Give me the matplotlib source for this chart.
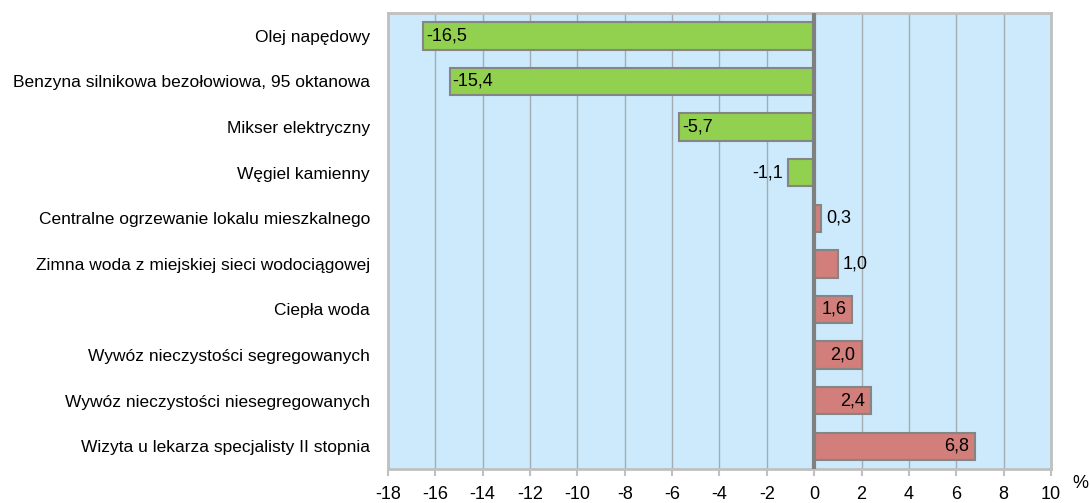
import matplotlib
matplotlib.use("Agg")
import matplotlib.pyplot as plt

categories = [
    "Olej napędowy",
    "Benzyna silnikowa bezołowiowa, 95 oktanowa",
    "Mikser elektryczny",
    "Węgiel kamienny",
    "Centralne ogrzewanie lokalu mieszkalnego",
    "Zimna woda z miejskiej sieci wodociągowej",
    "Ciepła woda",
    "Wywóz nieczystości segregowanych",
    "Wywóz nieczystości niesegregowanych",
    "Wizyta u lekarza specjalisty II stopnia",
]
values = [-16.5, -15.4, -5.7, -1.1, 0.3, 1.0, 1.6, 2.0, 2.4, 6.8]
inside = [True, True, True, False, False, False, True, True, True, True]
xticks = list(range(-18, 11, 2))

plt.rcParams['font.family'] = ['Liberation Sans', 'DejaVu Sans']

fig = plt.figure(figsize=(10.91, 5.03), dpi=100)
ax = fig.add_axes([0.3556, 0.0676, 0.6077, 0.9064])
ax.set_facecolor('#cceafc')

ypos = list(range(len(categories)))
colors = ['#92d050' if v < 0 else '#d27e7a' for v in values]
ax.barh(ypos, values, height=0.6, color=colors, edgecolor='#858585', linewidth=1.5, zorder=3)

ax.set_xlim(-18, 10)
ax.set_ylim(len(categories) - 0.5, -0.5)
ax.set_xticks(xticks)
ax.set_xticklabels([str(t) for t in xticks], fontsize=13)
ax.set_yticks(ypos)
ax.set_yticklabels(categories, fontsize=12.5)
ax.tick_params(axis='y', length=0, pad=13)
ax.tick_params(axis='x', length=5, color='#c0c0c0', width=1.5, pad=7)

for t in xticks:
    if t != 0:
        ax.axvline(t, color='#a3abb3', linewidth=1, zorder=1)
ax.axvline(0, color='#808080', linewidth=3, zorder=4)

for s in ax.spines.values():
    s.set_color('#c0c0c0')
    s.set_linewidth(2)

for y, v, ins in zip(ypos, values, inside):
    lab = f"{v:.1f}".replace('.', ',')
    if v < 0:
        if ins:
            ax.text(v + 0.12, y, lab, ha='left', va='center', fontsize=13, zorder=5)
        else:
            ax.text(v - 0.2, y, lab, ha='right', va='center', fontsize=13, zorder=5)
    else:
        if ins:
            ax.text(v - 0.25, y, lab, ha='right', va='center', fontsize=13, zorder=5)
        else:
            ax.text(v + 0.2, y, lab, ha='left', va='center', fontsize=13, zorder=5)

fig.text(1080 / 1091, 1 - 483 / 503, "%", ha='center', va='center', fontsize=13)

fig.savefig("out.png", dpi=100)
